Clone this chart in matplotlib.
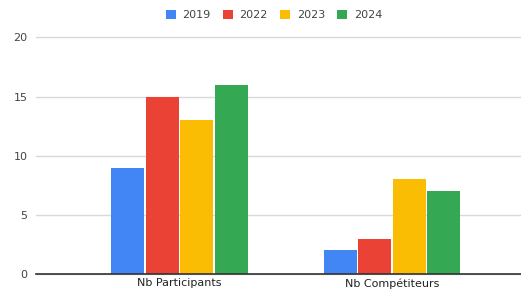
import matplotlib
matplotlib.use("Agg")
import matplotlib.pyplot as plt
import numpy as np

# --- Data ---
categories = ["Nb Participants", "Nb Compétiteurs"]
years = ["2019", "2022", "2023", "2024"]
values = {
    "2019": [9, 2],
    "2022": [15, 3],
    "2023": [13, 8],
    "2024": [16, 7],
}
colors = ["#4285F4", "#EA4335", "#FBBC04", "#34A853"]

# --- Plot ---
W, H = 521, 290
fig = plt.figure(figsize=(W / 100, H / 100), dpi=100)
ax = fig.add_axes([36 / W, 16 / H, 485 / W, (274 - 37.5) / H])

x = np.arange(len(categories))
bw = 0.155
step = 0.162
for i, (yr, c) in enumerate(zip(years, colors)):
    ax.bar(x + (i - 1.5) * step, values[yr], width=bw, color=c, label=yr,
           zorder=3)

ax.set_ylim(0, 20)
ax.set_yticks([0, 5, 10, 15, 20])
ax.set_xlim(-0.675, 0.607 + 1)
ax.set_xticks(x)
ax.set_xticklabels(categories)

ax.yaxis.grid(True, color="#d9d9d9", linewidth=1.0, zorder=0)
for gl in ax.get_ygridlines():
    gl.set_clip_on(False)
for s in ["top", "right", "left"]:
    ax.spines[s].set_visible(False)
ax.spines["bottom"].set_color("#333333")
ax.spines["bottom"].set_linewidth(1.2)
ax.spines["bottom"].set_zorder(4)
ax.tick_params(axis="both", length=0, labelsize=8, labelcolor="#444444")
ax.tick_params(axis="y", pad=6)
ax.tick_params(axis="x", pad=3, labelcolor="#222222")

fig.legend(loc="center", bbox_to_anchor=(274 / W, 1 - 15 / H), ncol=4,
           frameon=False, fontsize=8, handlelength=0.9, handleheight=0.9,
           columnspacing=1.1, handletextpad=0.6, labelcolor="#444444")

fig.savefig("out.png", dpi=100)
plt.close(fig)
